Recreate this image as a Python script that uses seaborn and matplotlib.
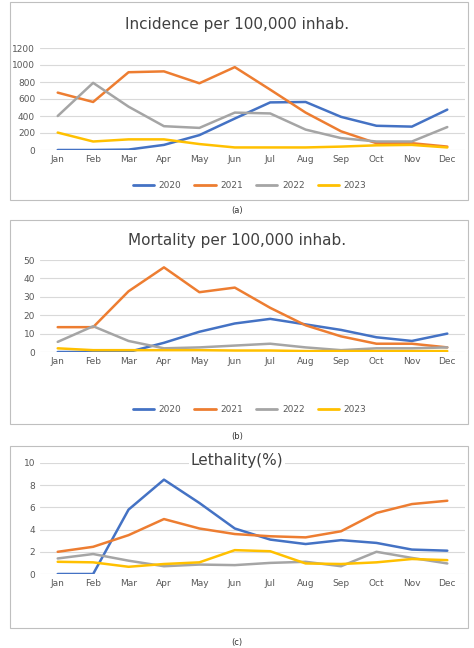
import matplotlib
matplotlib.use("Agg")
import matplotlib.pyplot as plt
import seaborn as sns
import pandas as pd
from matplotlib.patches import Rectangle

months = ["Jan","Feb","Mar","Apr","May","Jun","Jul","Aug","Sep","Oct","Nov","Dec"]
years = ["2020","2021","2022","2023"]
inc = {
 "2020": [0,0,5,60,175,370,560,565,390,285,275,475],
 "2021": [675,565,915,925,785,975,710,440,220,80,80,40],
 "2022": [400,790,510,280,260,440,430,240,140,100,100,270],
 "2023": [205,100,125,125,70,30,30,30,40,55,60,30],
}
mort = {
 "2020": [0,0,0,5,11,15.5,18,15,12,8,6,10],
 "2021": [13.5,13.5,33,46,32.5,35,24,14.5,8.5,4.5,4.5,2.5],
 "2022": [5.5,14,6,2,2.5,3.5,4.5,2.5,1,2,2,2.5],
 "2023": [2,1,1,1,1,0.8,0.8,0.5,0.5,0.5,0.5,0.5],
}
leth = {
 "2020": [0,0,5.8,8.5,6.4,4.1,3.1,2.7,3.05,2.8,2.2,2.1],
 "2021": [2,2.45,3.5,4.95,4.1,3.6,3.4,3.3,3.85,5.5,6.3,6.6],
 "2022": [1.4,1.8,1.2,0.7,0.85,0.8,1.0,1.1,0.7,2.0,1.45,0.95],
 "2023": [1.1,1.05,0.65,0.9,1.05,2.15,2.05,0.95,0.9,1.05,1.35,1.25],
}
colors = ["#4472C4", "#ED7D31", "#A5A5A5", "#FFC000"]
sns.set_style("white")
plt.rcParams['font.family'] = ['DejaVu Sans']

W, H = 474, 648
fig = plt.figure(figsize=(4.74, 6.48), dpi=100)

panels = [
 (inc, "Incidence per 100,000 inhab.", (2, 200), 24, (48, 150), [0,200,400,600,800,1000,1200], 1200, "(a)", 211, True),
 (mort, "Mortality per 100,000 inhab.", (220, 424), 241, (260, 352), [0,10,20,30,40,50], 50, "(b)", 437, True),
 (leth, "Lethality(%)", (446, 628), 460, (463, 574), [0,2,4,6,8,10], 10, "(c)", 642, False),
]
for data, title, (bt, bb), ty, (pt, pb), ticks, ymax, lab, ly, leg in panels:
    fig.patches.append(Rectangle((10/W, 1-bb/H), 458/W, (bb-bt)/H, transform=fig.transFigure,
                                 fill=False, edgecolor="#BFBFBF", lw=0.8))
    fig.text(0.5, 1-ly/H, lab, ha="center", va="center", fontsize=6, color="#333333")
    ax = fig.add_axes([40/W, 1-pb/H, 425/W, (pb-pt)/H])
    df = pd.DataFrame([(m, y, data[y][i]) for y in years for i, m in enumerate(months)],
                      columns=["month", "year", "v"])
    sns.lineplot(data=df, x="month", y="v", hue="year", palette=colors, lw=1.8, ax=ax, legend=False, sort=False)
    ax.set_ylim(0, ymax)
    ax.set_yticks(ticks)
    ax.set_xlim(-0.5, 11.5)
    ax.grid(axis="y", color="#D9D9D9", lw=0.8)
    for s in ax.spines.values():
        s.set_visible(False)
    ax.set_xlabel(""); ax.set_ylabel("")
    ax.tick_params(labelsize=6.5, colors="#595959", length=0)
    fig.text(0.5, 1-ty/H, title, ha="center", va="center", fontsize=11, color="#404040",
             bbox=dict(facecolor="white", edgecolor="none", pad=1), zorder=5)
    if leg:
        for i, y in enumerate(years):
            x0 = 0.28 + i*0.13
            fig.lines.append(plt.Line2D([x0, x0+0.045], [1-(bb-15)/H]*2, transform=fig.transFigure,
                                        color=colors[i], lw=2))
            fig.text(x0+0.055, 1-(bb-15)/H, y, fontsize=6.5, va="center", color="#595959")

fig.savefig("out.png", dpi=100, facecolor="white")
